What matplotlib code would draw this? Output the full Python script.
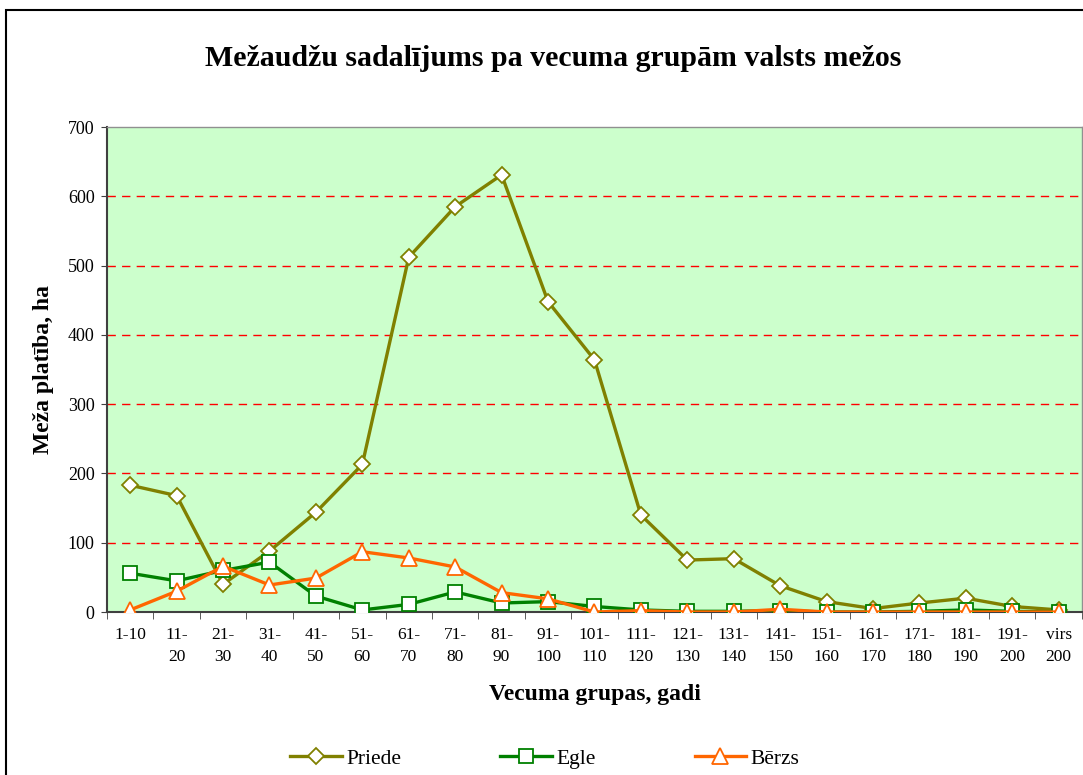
import matplotlib.pyplot as plt
import matplotlib.patches as mpatches
import numpy as np

# data (ha)
groups = ["1-10", "11-\n20", "21-\n30", "31-\n40", "41-\n50", "51-\n60", "61-\n70",
          "71-\n80", "81-\n90", "91-\n100", "101-\n110", "111-\n120", "121-\n130",
          "131-\n140", "141-\n150", "151-\n160", "161-\n170", "171-\n180",
          "181-\n190", "191-\n200", "virs\n200"]
priede = [183, 168, 40, 88, 144, 213, 512, 585, 631, 448, 364, 140, 75, 77, 38, 15, 5, 13, 20, 8, 3]
egle = [56, 45, 60, 72, 23, 3, 11, 29, 13, 15, 8, 3, 1, 1, 2, 0, 0, 1, 3, 1, 0]
berzs = [3, 30, 66, 39, 49, 87, 78, 65, 28, 19, 0, 2, 0, 0, 4, 0, 0, 0, 0, 0, 0]

plt.rcParams['font.family'] = ['Liberation Serif', 'DejaVu Serif']

fig = plt.figure(figsize=(10.83, 7.75), dpi=100)
ax = fig.add_axes([0.0988, 0.2103, 0.9002, 0.6258])
ax.set_facecolor("#CCFFCC")

x = np.arange(len(groups))
ax.plot(x, priede, color="#808000", lw=2.4, marker="D", ms=8.5, mfc="white",
        mec="#808000", mew=1.3, label="Priede", zorder=3)
ax.plot(x, egle, color="#008000", lw=2.4, marker="s", ms=10.5, mfc="white",
        mec="#008000", mew=1.3, label="Egle", zorder=4)
ax.plot(x, berzs, color="#FF6600", lw=2.4, marker="^", ms=12, mfc="white",
        mec="#FF6600", mew=1.3, label="Bērzs", zorder=5)

ax.set_xlim(-0.5, len(groups) - 0.5)
ax.set_ylim(0, 700)
ax.set_yticks(range(0, 701, 100))
for v in range(100, 700, 100):
    ax.axhline(v, color="#FF0000", lw=1, ls=(0, (6, 4.5)), zorder=1)

ax.set_xticks(x)
ax.set_xticklabels(groups, fontsize=12.5, linespacing=1.45, va="top")
ax.set_xticks(np.arange(-0.5, len(groups), 1), minor=True)
ax.tick_params(axis="x", which="major", length=0, pad=11)
ax.tick_params(axis="x", which="minor", length=5, direction="out", color="#404040")
ax.tick_params(axis="y", labelsize=13, length=4, color="#404040", pad=5)

for s in ["top", "right"]:
    ax.spines[s].set_color("#909090")
    ax.spines[s].set_linewidth(1)
for s in ["left", "bottom"]:
    ax.spines[s].set_color("#404040")
    ax.spines[s].set_linewidth(1.5)

ax.set_ylabel("Meža platība, ha", fontsize=17, fontweight="bold", labelpad=10)
ax.set_xlabel("Vecuma grupas, gadi", fontsize=17, fontweight="bold", labelpad=14)

fig.text(0.511, 0.925, "Mežaudžu sadalījums pa vecuma grupām valsts mežos",
         ha="center", va="center", fontsize=21.5, fontweight="bold")

fig.legend(loc="center", bbox_to_anchor=(0.503, 0.021), ncol=3, frameon=False,
           fontsize=15.5, columnspacing=4.6, handlelength=2.4, handletextpad=0.2)

# outer chart frame (cut off on the right and bottom)
fig.patches.append(mpatches.Rectangle((6 / 1083, -0.05), 1.2, 1 - 10 / 775 + 0.05,
                                      transform=fig.transFigure, fill=False,
                                      edgecolor="black", lw=1.5, zorder=0))

fig.savefig("out.png", dpi=100)
